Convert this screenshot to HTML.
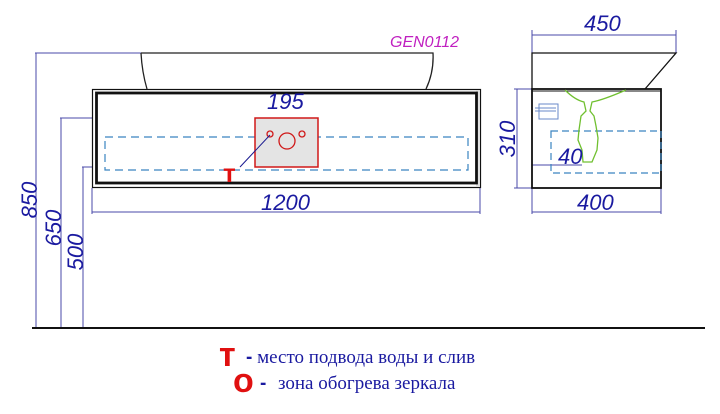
<!DOCTYPE html>
<html><head><meta charset="utf-8"><style>
html,body{margin:0;padding:0;background:#fff;width:720px;height:414px;overflow:hidden}
svg{display:block}
.d{font-family:"Liberation Sans",sans-serif;font-style:italic;fill:#1a1aa0;font-size:22px}
</style></head><body>
<svg width="720" height="414" viewBox="0 0 720 414" xmlns="http://www.w3.org/2000/svg">
<g stroke="#4a4aa8" stroke-width="1" fill="none">
<line x1="35" y1="53" x2="141" y2="53"/>
<line x1="60" y1="118" x2="255" y2="118"/>
<line x1="82" y1="167" x2="255" y2="167"/>
<line x1="36" y1="53" x2="36" y2="328"/>
<line x1="61" y1="118" x2="61" y2="328"/>
<line x1="83" y1="167" x2="83" y2="328"/>
<line x1="92" y1="188" x2="92" y2="214"/>
<line x1="480" y1="188" x2="480" y2="214"/>
<line x1="92" y1="212" x2="480" y2="212"/>
<line x1="255" y1="104" x2="255" y2="118"/>
<line x1="318" y1="104" x2="318" y2="118"/>
<line x1="255" y1="112" x2="318" y2="112"/>
<line x1="532" y1="30" x2="532" y2="53"/>
<line x1="676" y1="30" x2="676" y2="53"/>
<line x1="532" y1="35" x2="676" y2="35"/>
<line x1="532" y1="188" x2="532" y2="214"/>
<line x1="661" y1="188" x2="661" y2="214"/>
<line x1="532" y1="212" x2="661" y2="212"/>
<line x1="514" y1="89" x2="532" y2="89"/>
<line x1="514" y1="188" x2="532" y2="188"/>
<line x1="517" y1="89" x2="517" y2="188"/>
<line x1="532" y1="165" x2="582" y2="165"/>
</g>
<line x1="32" y1="328" x2="705" y2="328" stroke="#111" stroke-width="2"/>
<path d="M141 53 L433 53 Q434 72 426 89" fill="none" stroke="#222" stroke-width="1.3"/>
<path d="M141 53 Q142 72 147 89" fill="none" stroke="#222" stroke-width="1.3"/>
<text x="390" y="47" font-family="Liberation Sans,sans-serif" font-style="italic" font-size="16" fill="#c020c0">GEN0112</text>
<rect x="92.5" y="89.5" width="388" height="98" fill="#fff" stroke="#111" stroke-width="1.2"/>
<rect x="476" y="90" width="4" height="97" fill="#e0e0e0"/>
<rect x="96.5" y="93" width="380" height="90" fill="#fff" stroke="#111" stroke-width="2.8"/>
<rect x="105" y="137" width="363" height="33" fill="none" stroke="#3a84c0" stroke-width="1.2" stroke-dasharray="8,5"/>
<rect x="255" y="118" width="63" height="49" fill="#e4e4e4" stroke="#d01818" stroke-width="1.5"/>
<circle cx="270" cy="134" r="3" fill="none" stroke="#d01818" stroke-width="1.3"/>
<circle cx="287" cy="141" r="8" fill="none" stroke="#d01818" stroke-width="1.3"/>
<circle cx="302" cy="134" r="3" fill="none" stroke="#d01818" stroke-width="1.3"/>
<line x1="240" y1="167" x2="270" y2="135" stroke="#1a1a90" stroke-width="1"/>
<text x="223" y="182" font-family="Liberation Sans,sans-serif" font-weight="bold" font-size="26" fill="#e01010">т</text>
<text class="d" x="267" y="109">195</text>
<text class="d" x="261" y="210">1200</text>
<text class="d" transform="translate(37,200) rotate(-90)" text-anchor="middle">850</text>
<text class="d" transform="translate(61,228) rotate(-90)" text-anchor="middle">650</text>
<text class="d" transform="translate(83,252) rotate(-90)" text-anchor="middle">500</text>
<path d="M532 89 L532 53 L676 53 L645 89" fill="none" stroke="#111" stroke-width="1.3"/>
<rect x="532" y="89" width="129" height="99" fill="none" stroke="#111" stroke-width="1.8"/>
<line x1="532" y1="91" x2="661" y2="91" stroke="#111" stroke-width="1"/>
<rect x="551" y="131" width="110" height="42" fill="none" stroke="#3a84c0" stroke-width="1.2" stroke-dasharray="7,4"/>
<path d="M565 90 Q575 100 584 102 L586 111 L581 116 L579 130 L578 140 L582 150 L583 162 L592 162 L597 150 L598 138 L596 126 L594 116 L590 111 L592 102 Q603 100 626 90" fill="none" stroke="#70c030" stroke-width="1.3"/>
<rect x="539" y="104" width="19" height="15" fill="none" stroke="#6a8ac8" stroke-width="1"/>
<line x1="535" y1="108" x2="556" y2="108" stroke="#6a8ac8"/>
<line x1="535" y1="111" x2="556" y2="111" stroke="#6a8ac8"/>
<text class="d" x="584" y="31">450</text>
<text class="d" x="577" y="210">400</text>
<text class="d" x="558" y="164">40</text>
<text class="d" transform="translate(515,139) rotate(-90)" text-anchor="middle">310</text>
<text x="219" y="366" font-family="Liberation Sans,sans-serif" font-weight="bold" font-size="34" fill="#e01010">т</text>
<text x="246" y="363" font-family="Liberation Serif,serif" font-size="19" fill="#1a1aa0"><tspan font-weight="bold" font-family="Liberation Sans,sans-serif">-</tspan> место подвода воды и слив</text>
<text x="233" y="392" font-family="Liberation Sans,sans-serif" font-weight="bold" font-size="34" fill="#e01010">о</text>
<text x="260" y="389" font-family="Liberation Sans,sans-serif" font-weight="bold" font-size="19" fill="#1a1aa0">-</text>
<text x="278" y="389" font-family="Liberation Serif,serif" font-size="19" fill="#1a1aa0">зона обогрева зеркала</text>
</svg>
</body></html>
